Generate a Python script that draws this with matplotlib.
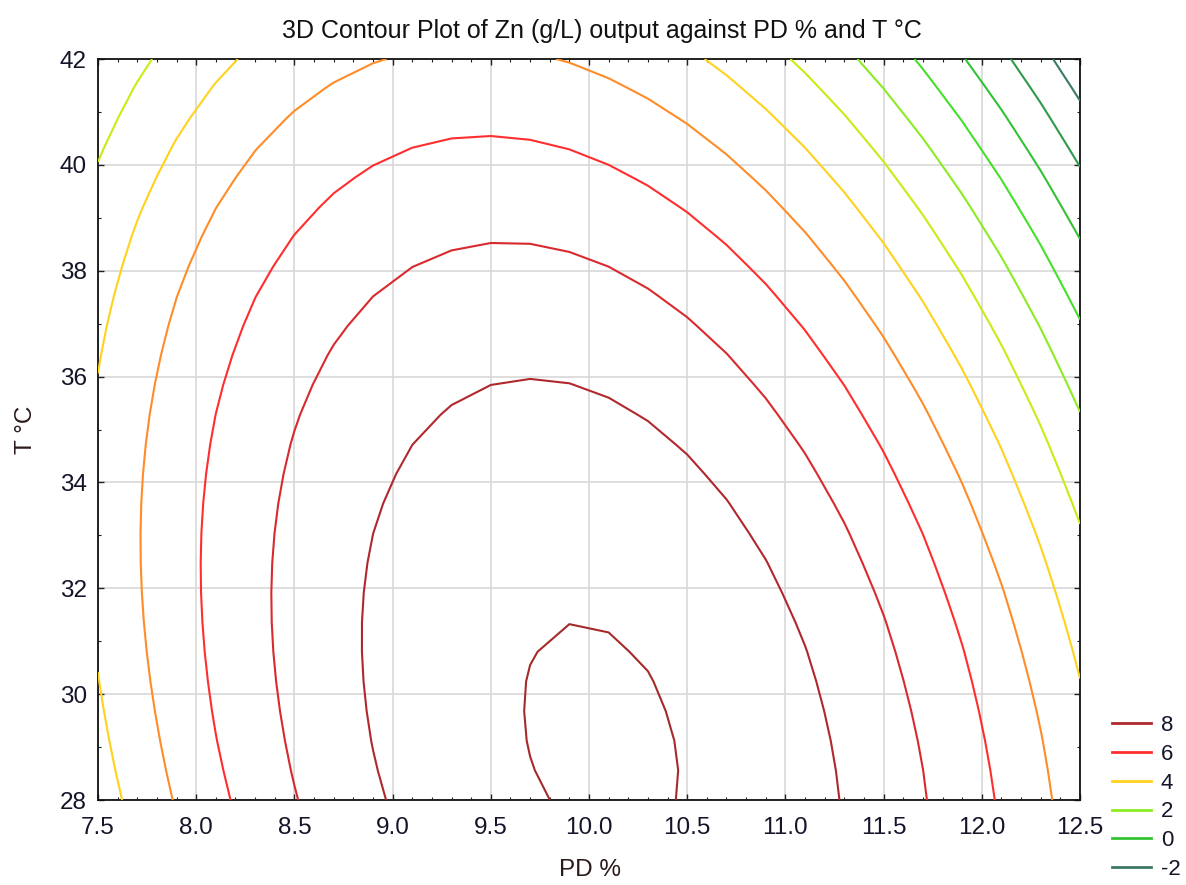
import numpy as np
import matplotlib
matplotlib.use("Agg")
import matplotlib.pyplot as plt
from matplotlib.lines import Line2D
from matplotlib.ticker import MultipleLocator, FormatStrFormatter

plt.rcParams['font.family'] = ['Liberation Sans', 'DejaVu Sans']

# Second-order response surface for Zn (g/L):
# Zn = b0 + b1*PD + b2*T + b11*PD^2 + b22*T^2 + b12*PD*T
coef_names = ["b0", "b1", "b2", "b11", "b22", "b12"]
coef_values = [-119.9304, 18.8415, 2.353613, -0.815, -0.0259532, -0.083782]

pd_range = [7.5, 12.5]
t_range = [28.0, 42.0]
grid_points = 26

levels = [-2, -1, 0, 1, 2, 3, 4, 5, 6, 7, 8, 9]
level_colors = ['#3A7A62', '#2F9A4C', '#33C233', '#44E02A', '#8CEC22', '#C4EE14',
                '#FFD21E', '#FF8C28', '#FF2E2E', '#D82A2E', '#B0282E', '#A52A2A']
legend_levels = [8, 6, 4, 2, 0, -2]

title = "3D Contour Plot of Zn (g/L) output against PD % and T °C"
x_label = "PD %"
y_label = "T °C"

c = dict(zip(coef_names, coef_values))
pd_vals = np.linspace(pd_range[0], pd_range[1], grid_points)
t_vals = np.linspace(t_range[0], t_range[1], grid_points)
PD, T = np.meshgrid(pd_vals, t_vals)
Zn = (c["b0"] + c["b1"] * PD + c["b2"] * T + c["b11"] * PD ** 2
      + c["b22"] * T ** 2 + c["b12"] * PD * T)

W, H = 1186, 885
fig = plt.figure(figsize=(W / 100, H / 100), dpi=100)
ax = fig.add_axes([98 / W, (H - 800) / H, 982 / W, 741 / H])

ax.contour(PD, T, Zn, levels=levels, colors=level_colors, linewidths=1.5, zorder=3)

ax.set_xlim(pd_range)
ax.set_ylim(t_range)
ax.xaxis.set_major_locator(MultipleLocator(0.5))
ax.xaxis.set_minor_locator(MultipleLocator(0.1))
ax.yaxis.set_major_locator(MultipleLocator(2))
ax.yaxis.set_minor_locator(MultipleLocator(1))
ax.xaxis.set_major_formatter(FormatStrFormatter('%.1f'))
ax.yaxis.set_major_formatter(FormatStrFormatter('%d'))
ax.grid(True, which='major', color='#D8D8D8', linewidth=1.2, zorder=0)
ax.set_axisbelow(True)
ax.tick_params(which='both', direction='in', top=True, right=True, color='#222222')
ax.tick_params(which='major', length=4.5, width=1.0, labelsize=17.5, labelcolor='#15152a')
ax.tick_params(which='minor', length=2.5, width=0.8)
ax.tick_params(axis='x', which='major', pad=12)
ax.tick_params(axis='y', which='major', pad=8)
for sp in ax.spines.values():
    sp.set_linewidth(1.3)
    sp.set_color('#111111')

fig.text(602 / W, 1 - 31 / H, title, ha='center', va='center', fontsize=18, color='#111111')
fig.text(590 / W, 1 - 870 / H, x_label, ha='center', va='center', fontsize=17.5, color='#2a1a1a')
fig.text(26 / W, 1 - 430 / H, y_label, ha='center', va='center', rotation=90,
         fontsize=17.5, color='#2a1a1a')

color_of = dict(zip(levels, level_colors))
handles = [Line2D([], [], color=color_of[lv], linewidth=2.0) for lv in legend_levels]
fig.legend(handles, [str(lv) for lv in legend_levels], loc='upper left',
           bbox_to_anchor=(1112 / W, 1 - 715 / H), frameon=False, fontsize=16,
           handlelength=1.75, handletextpad=0.45, labelspacing=0.35, borderpad=0,
           borderaxespad=0, labelcolor='#15152a')

fig.savefig("out.png", dpi=100)
